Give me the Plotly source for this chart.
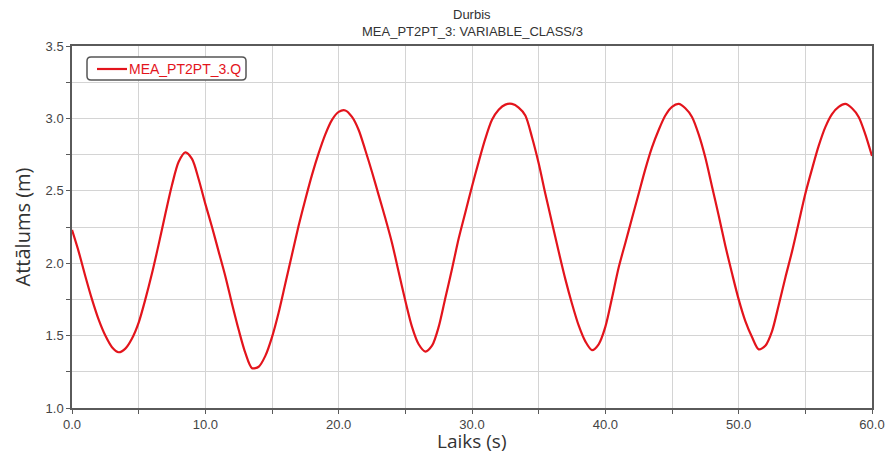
import plotly.graph_objects as go

# Time (s) and value (m), every 0.5 s
time_s = [i * 0.5 for i in range(121)]
value_m = [
    2.23, 2.08, 1.91, 1.75, 1.61, 1.50, 1.42, 1.385,              # 0.0 - 3.5
    1.41, 1.48, 1.59, 1.75, 1.93, 2.13, 2.34, 2.54, 2.70, 2.765,  # 4.0 - 8.5
    2.72, 2.58, 2.41, 2.25, 2.08, 1.91, 1.72, 1.54, 1.38, 1.275,  # 9.0 - 13.5
    1.285, 1.36, 1.49, 1.66, 1.86, 2.06, 2.26, 2.44, 2.61, 2.76,  # 14.0 - 18.5
    2.89, 2.99, 3.045, 3.055, 3.01, 2.92, 2.78, 2.63, 2.47, 2.31, # 19.0 - 23.5
    2.14, 1.94, 1.74, 1.56, 1.44, 1.39, 1.43, 1.56, 1.76, 1.96,   # 24.0 - 28.5
    2.17, 2.35, 2.53, 2.70, 2.86, 2.99, 3.06, 3.095, 3.10, 3.075, # 29.0 - 33.5
    3.02, 2.87, 2.69, 2.48, 2.28, 2.08, 1.89, 1.72, 1.57, 1.46,   # 34.0 - 38.5
    1.40, 1.44, 1.56, 1.76, 1.97, 2.14, 2.31, 2.48, 2.65, 2.80,   # 39.0 - 43.5
    2.92, 3.02, 3.08, 3.10, 3.07, 3.01, 2.89, 2.73, 2.53, 2.33,   # 44.0 - 48.5
    2.12, 1.93, 1.75, 1.60, 1.49, 1.405, 1.43, 1.53, 1.71, 1.90,  # 49.0 - 53.5
    2.08, 2.28, 2.48, 2.65, 2.81, 2.94, 3.03, 3.08, 3.10, 3.07,   # 54.0 - 58.5
    3.01, 2.89, 2.74,                                             # 59.0 - 60.0
]

series_name = "MEA_PT2PT_3.Q"
title_lines = ["Durbis", "MEA_PT2PT_3: VARIABLE_CLASS/3"]
x_title = "Laiks (s)"
y_title = "Attālums (m)"
line_color = "#e3141c"

fig = go.Figure()
fig.add_trace(go.Scatter(
    x=time_s, y=value_m, mode="lines", name=series_name, showlegend=False,
    line=dict(color=line_color, width=2.2, shape="spline", smoothing=0.8),
))

axis_common = dict(
    showline=True, linecolor="#5a5a5a", linewidth=1.5, mirror=True,
    ticks="outside", ticklen=4, tickcolor="#5a5a5a", tickwidth=1,
    showgrid=True, gridcolor="#d4d4d4", gridwidth=1, zeroline=False,
    automargin=False,
    tickfont=dict(family="Liberation Sans, Arial", size=13, color="#444444"),
)

# plot-area geometry in pixels (for placing title and legend box)
PL, PR, PT, PB = 72, 872, 46, 408
def px_x(px):
    return (px - PL) / (PR - PL)
def px_y(py):
    return (PB - py) / (PB - PT)

title_font = dict(family="Liberation Sans, Arial", size=13, color="#333333")
for line_text, ypx in zip(title_lines, [15, 31]):
    fig.add_annotation(
        text=line_text, xref="paper", yref="paper",
        x=0.5, y=px_y(ypx), xanchor="center", yanchor="middle",
        showarrow=False, font=title_font,
    )

# x-axis title placed as annotation below the tick labels
fig.add_annotation(
    text=x_title, xref="paper", yref="paper",
    x=0.5, y=px_y(440.5), xanchor="center", yanchor="middle",
    showarrow=False,
    font=dict(family="Open Sans, Noto Sans", size=19, color="#333333"),
)

# legend box with rounded corners
x0, x1, y0, y1 = px_x(87), px_x(246), px_y(80), px_y(57)
rx, ry = 4 / (PR - PL), 4 / (PB - PT)
path = (f"M {x0+rx},{y0} L {x1-rx},{y0} Q {x1},{y0} {x1},{y0+ry} "
        f"L {x1},{y1-ry} Q {x1},{y1} {x1-rx},{y1} L {x0+rx},{y1} "
        f"Q {x0},{y1} {x0},{y1-ry} L {x0},{y0+ry} Q {x0},{y0} {x0+rx},{y0} Z")
fig.add_shape(type="path", path=path, xref="paper", yref="paper",
              line=dict(color="#555555", width=1.5), fillcolor="white", layer="above")
fig.add_shape(type="line", xref="paper", yref="paper",
              x0=px_x(97), x1=px_x(127), y0=px_y(69), y1=px_y(69),
              line=dict(color=line_color, width=2.2), layer="above")
fig.add_annotation(
    text=series_name, xref="paper", yref="paper",
    x=px_x(127), y=px_y(69), xanchor="left", yanchor="middle",
    showarrow=False,
    font=dict(family="Liberation Sans, Arial", size=14, color=line_color),
)

fig.update_layout(
    width=887, height=454,
    margin=dict(l=PL, r=887 - PR, t=PT, b=454 - PB),
    paper_bgcolor="white", plot_bgcolor="white",
    showlegend=False,
    xaxis=dict(
        range=[0, 60], dtick=10, tick0=0, tickformat=".1f",
        minor=dict(dtick=5, ticks="outside", ticklen=4, tickcolor="#5a5a5a",
                   showgrid=True, gridcolor="#d4d4d4"),
        **axis_common,
    ),
    yaxis=dict(
        range=[1.0, 3.5], dtick=0.5, tick0=1.0, tickformat=".1f",
        minor=dict(dtick=0.25, ticks="outside", ticklen=4, tickcolor="#5a5a5a",
                   showgrid=True, gridcolor="#d4d4d4"),
        title=dict(text=y_title, standoff=10,
                   font=dict(family="Open Sans, Noto Sans", size=20, color="#333333")),
        **axis_common,
    ),
)

fig.write_html("out.html")
